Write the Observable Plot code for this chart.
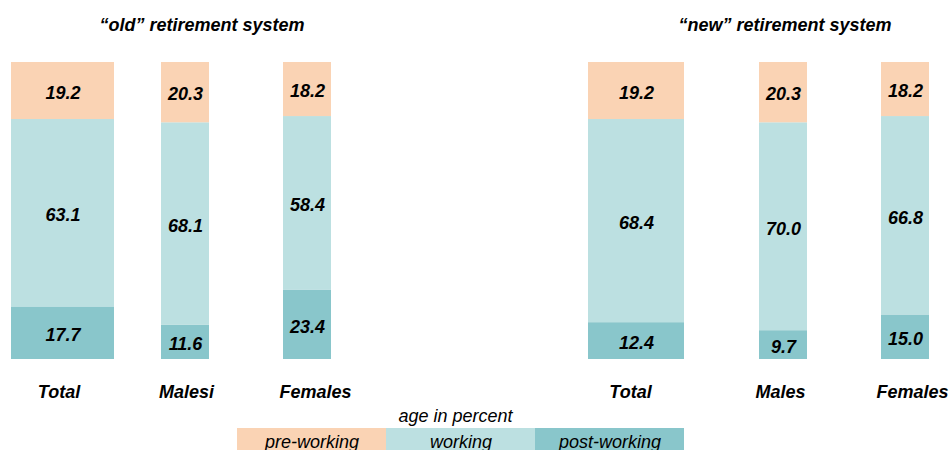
<!DOCTYPE html>
<html>
<head>
<meta charset="utf-8">
<script src="https://cdn.jsdelivr.net/npm/d3@7"></script>
<script src="https://cdn.jsdelivr.net/npm/@observablehq/plot@0.6"></script>
<style>
  body { margin: 0; background: #fff; }
  #chart { position: relative; width: 951px; height: 450px; overflow: hidden; font-family: "Liberation Sans", Arial, sans-serif; }
  .title { position: absolute; top: 16px; transform: translateX(-50%); font-size: 18px; line-height: 18px; font-weight: bold; font-style: italic; white-space: nowrap; color: #000; }
  .cell { position: absolute; top: 0; }
  .cell svg { overflow: visible; max-width: none !important; }
</style>
</head>
<body>
<div id="chart"></div>
<script>
// ---- data ----
const systems = ["\u201cold\u201d retirement system", "\u201cnew\u201d retirement system"];
const groupsOld = ["Total", "Malesi", "Females"];
const groupsNew = ["Total", "Males", "Females"];
const stages = ["pre-working", "working", "post-working"];
const preOld = [19.2, 20.3, 18.2];
const workOld = [63.1, 68.1, 58.4];
const postOld = [17.7, 11.6, 23.4];
const preNew = [19.2, 20.3, 18.2];
const workNew = [68.4, 70.0, 66.8];
const postNew = [12.4, 9.7, 15.0];
const legendTitle = "age in percent";

// ---- styling / layout (not data) ----
const colors = ["#FAD3B4", "#BCE0E1", "#89C6CB"];
const font = "'Liberation Sans', Arial, sans-serif";
const barLeft = [[11, 161, 283], [588, 759, 881]];
const barWidth = [[103, 48, 48], [96, 48, 48]];
const labelShift = [[-4, 1, 8], [-6, -3, 7]];
const titleCenter = [202, 785];
const M = 45;

const chart = document.getElementById("chart");

systems.forEach((sys, si) => {
  const t = document.createElement("div");
  t.className = "title";
  t.style.left = titleCenter[si] + "px";
  t.textContent = sys;
  chart.appendChild(t);

  const groups = si === 0 ? groupsOld : groupsNew;
  const pre = si === 0 ? preOld : preNew;
  const work = si === 0 ? workOld : workNew;
  const post = si === 0 ? postOld : postNew;

  groups.forEach((g, gi) => {
    const rows = [
      {group: g, stage: "post-working", value: post[gi]},
      {group: g, stage: "working", value: work[gi]},
      {group: g, stage: "pre-working", value: pre[gi]}
    ];
    const order = ["post-working", "working", "pre-working"];
    const w = barWidth[si][gi] + 2 * M;
    const p = Plot.plot({
      width: w,
      height: 400,
      marginLeft: M, marginRight: M, marginTop: 62, marginBottom: 41,
      style: {fontFamily: font, fontSize: "18px", fontWeight: "bold", fontStyle: "italic", background: "transparent", overflow: "visible", maxWidth: "none"},
      x: {domain: [g], padding: 0, axis: null, label: null},
      y: {domain: [0, 100], axis: null},
      color: {domain: stages, range: colors},
      marks: [
        Plot.barY(rows, Plot.stackY({x: "group", y: "value", fill: "stage", z: "stage", order})),
        Plot.text(rows, Plot.stackY({x: "group", y: "value", z: "stage", order,
          text: d => d.value.toFixed(1), fontSize: 18, fontWeight: "bold", fontStyle: "italic", fill: "#000", dy: 2})),
        Plot.axisX({tickSize: 0, tickPadding: 26, label: null, dx: labelShift[si][gi], fontSize: 18, fontWeight: "bold", fontStyle: "italic", fill: "#000"})
      ]
    });
    const wrap = document.createElement("div");
    wrap.className = "cell";
    wrap.style.left = (barLeft[si][gi] - M) + "px";
    wrap.style.width = w + "px";
    wrap.appendChild(p);
    chart.appendChild(wrap);
  });
});

// legend
const leg = Plot.plot({
  width: 448, height: 50,
  marginLeft: 0, marginRight: 0, marginTop: 24, marginBottom: 0,
  style: {fontFamily: font, fontSize: "18px", fontStyle: "italic", background: "transparent", overflow: "visible", maxWidth: "none"},
  x: {domain: stages, padding: 0, axis: null},
  color: {domain: stages, range: colors},
  marks: [
    Plot.cell(stages, {x: d => d, fill: d => d}),
    Plot.text(stages, {x: d => d, text: d => d, fontSize: 18, fontStyle: "italic", fill: "#000", dy: 1}),
    Plot.text([legendTitle], {frameAnchor: "top", lineAnchor: "middle", dy: -12, dx: -5, text: d => d, fontSize: 18, fontStyle: "italic", fill: "#000"})
  ]
});
const lw = document.createElement("div");
lw.className = "cell";
lw.style.left = "236px";
lw.style.top = "404px";
lw.style.width = "448px";
lw.appendChild(leg);
chart.appendChild(lw);
</script>
</body>
</html>
